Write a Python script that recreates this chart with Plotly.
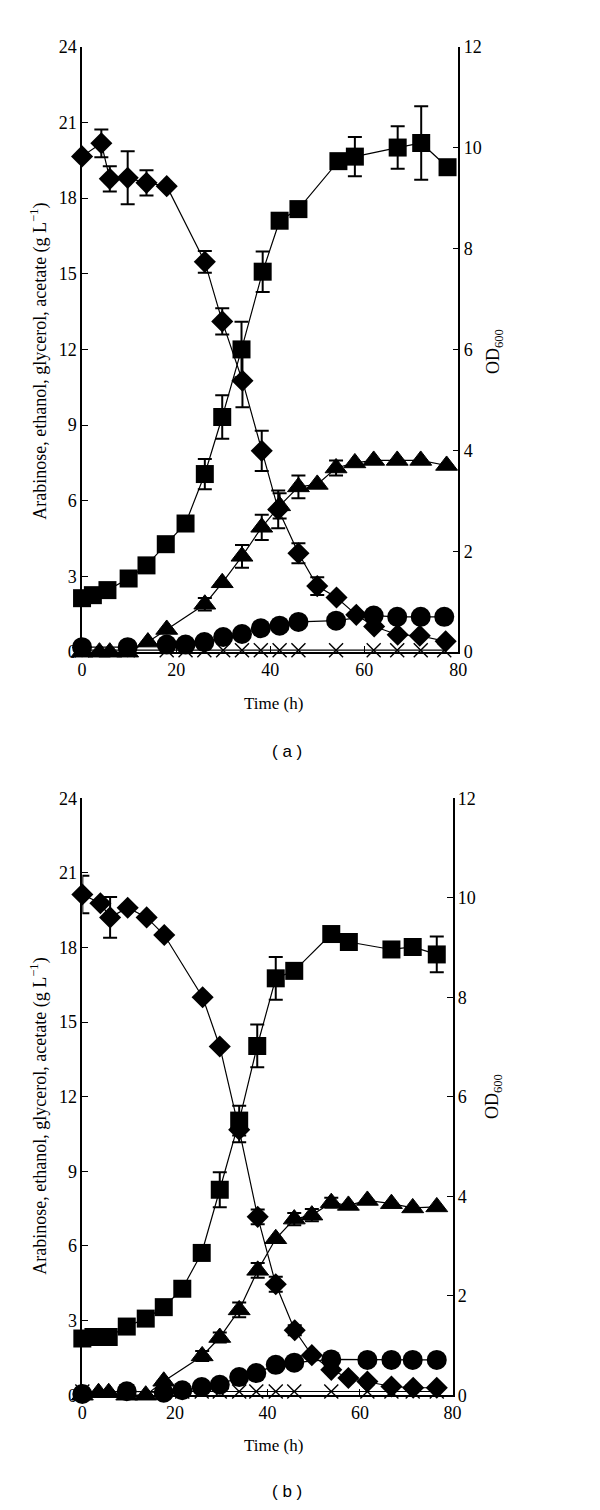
import plotly.graph_objects as go

# ---------------- Panel (a) ----------------
t_sq_a = [0, 2.3, 5.4, 9.9, 13.7, 17.8, 22.0, 26.1, 29.8, 33.9, 38.4, 42.0, 46.0, 54.5, 58.0, 67.1, 72.1, 77.7]
od_a = [1.07, 1.13, 1.23, 1.46, 1.72, 2.14, 2.55, 3.53, 4.66, 6.0, 7.54, 8.55, 8.78, 9.73, 9.82, 10.0, 10.09, 9.61]
od_err_a = [0, 0, 0, 0, 0, 0, 0, 0.3, 0.43, 0.55, 0.4, 0, 0, 0, 0.39, 0.42, 0.73, 0]

t_ara_a = [0, 4.1, 5.9, 9.7, 13.7, 18.0, 26.1, 29.8, 34.1, 38.2, 41.7, 46.0, 50.0, 54.1, 58.3, 62.1, 67.1, 71.8, 77.3]
ara_a = [19.65, 20.17, 18.76, 18.8, 18.6, 18.47, 15.47, 13.11, 10.76, 7.98, 5.66, 3.92, 2.62, 2.17, 1.48, 1.02, 0.69, 0.65, 0.43]
ara_err_a = [0, 0.55, 0.5, 1.05, 0.5, 0, 0.43, 0.52, 1.05, 0.8, 0.75, 0.4, 0.35, 0, 0, 0, 0, 0, 0]

t_eth_a = [0, 3.7, 5.9, 9.7, 14.0, 18.0, 26.1, 29.8, 34.0, 38.2, 42.0, 46.0, 50.0, 54.0, 58.0, 62.0, 67.0, 72.0, 77.5]
eth_a = [0.0, 0.0, 0.0, 0.0, 0.4, 0.9, 1.9, 2.75, 3.8, 4.95, 5.8, 6.55, 6.65, 7.3, 7.5, 7.6, 7.6, 7.6, 7.4]
eth_err_a = [0, 0, 0, 0, 0, 0, 0.25, 0, 0.45, 0.5, 0.5, 0.45, 0, 0.3, 0, 0, 0, 0, 0]

t_gly_a = [0, 9.7, 18.0, 22.0, 26.0, 30.0, 34.0, 38.0, 42.0, 46.0, 54.0, 62.0, 67.0, 72.0, 77.0]
gly_a = [0.2, 0.2, 0.3, 0.3, 0.4, 0.6, 0.72, 0.95, 1.05, 1.2, 1.25, 1.45, 1.4, 1.4, 1.4]
ace_a = [0.08, 0.08, 0.08, 0.08, 0.08, 0.08, 0.08, 0.08, 0.08, 0.08, 0.08, 0.08, 0.08, 0.08, 0.08]

# ---------------- Panel (b) ----------------
t_sq_b = [0, 2.4, 5.7, 9.6, 13.7, 17.6, 21.6, 25.8, 29.7, 33.9, 37.8, 41.8, 45.8, 53.8, 57.6, 66.8, 71.4, 76.6]
od_b = [1.14, 1.17, 1.17, 1.38, 1.54, 1.77, 2.14, 2.86, 4.13, 5.52, 7.02, 8.38, 8.53, 9.27, 9.11, 8.96, 9.01, 8.86]
od_err_b = [0, 0, 0, 0, 0, 0, 0, 0, 0.35, 0.3, 0.43, 0.43, 0, 0, 0, 0, 0, 0.36]

t_ara_b = [0, 3.9, 6.0, 9.8, 13.9, 17.7, 26.0, 29.7, 33.9, 37.9, 41.8, 45.9, 49.6, 53.8, 57.5, 61.6, 66.8, 71.5, 76.6]
ara_b = [20.13, 19.78, 19.21, 19.6, 19.21, 18.5, 16.0, 14.02, 10.67, 7.17, 4.46, 2.61, 1.61, 1.02, 0.69, 0.55, 0.35, 0.3, 0.3]
ara_err_b = [0.75, 0, 0.82, 0, 0, 0, 0, 0, 0.5, 0.3, 0.3, 0.2, 0, 0, 0, 0, 0, 0, 0]

t_eth_b = [0, 3.5, 5.7, 9.6, 13.7, 17.6, 25.9, 29.7, 33.9, 37.9, 41.8, 45.8, 49.6, 53.8, 57.5, 61.6, 66.8, 71.4, 76.6]
eth_b = [0.0, 0.1, 0.1, 0.0, 0.0, 0.56, 1.58, 2.32, 3.43, 5.02, 6.29, 7.08, 7.24, 7.74, 7.63, 7.83, 7.7, 7.53, 7.57]
eth_err_b = [0, 0, 0, 0, 0, 0, 0.2, 0.2, 0.3, 0.3, 0, 0.25, 0.25, 0.2, 0, 0, 0, 0, 0]

t_gly_b = [0, 9.6, 17.6, 21.6, 25.8, 29.7, 33.9, 37.6, 41.8, 45.8, 53.8, 61.6, 66.8, 71.4, 76.6]
gly_b = [0.05, 0.16, 0.1, 0.2, 0.33, 0.42, 0.73, 0.89, 1.22, 1.31, 1.44, 1.42, 1.42, 1.42, 1.42]
ace_b = [0.15, 0.15, 0.15, 0.15, 0.15, 0.15, 0.15, 0.15, 0.15, 0.15, 0.15, 0.15, 0.15, 0.15, 0.15]

x_ticks = [0, 20, 40, 60, 80]
left_ticks = [0, 3, 6, 9, 12, 15, 18, 21, 24]
right_ticks = [0, 2, 4, 6, 8, 10, 12]

W, H = 600, 1510
SERIF = "Liberation Serif, Times New Roman, serif"
LINE = dict(color="black", width=1.2)


def err(arr):
    return dict(type="data", array=arr, visible=True, color="black", thickness=2, width=7)


fig = go.Figure()


def add_panel(xa, ya_l, ya_r, t_sq, od, od_e, t_ara, ara, ara_e, t_eth, eth, eth_e, t_gly, gly, ace):
    common = dict(xaxis=xa, mode="lines+markers", showlegend=False, cliponaxis=False, line=LINE)
    fig.add_trace(go.Scatter(x=t_gly, y=ace, yaxis=ya_l,
                             marker=dict(symbol="x-thin", size=14, color="black",
                                         line=dict(color="black", width=1.4)), **common))
    fig.add_trace(go.Scatter(x=t_gly, y=gly, yaxis=ya_l,
                             marker=dict(symbol="circle", size=20, color="black"), **common))
    fig.add_trace(go.Scatter(x=t_eth, y=eth, yaxis=ya_l, error_y=err(eth_e),
                             marker=dict(symbol="triangle-up", size=19, color="black",
                                         line=dict(color="black", width=1)), **common))
    fig.add_trace(go.Scatter(x=t_ara, y=ara, yaxis=ya_l, error_y=err(ara_e),
                             marker=dict(symbol="diamond", size=17, color="black"), **common))
    fig.add_trace(go.Scatter(x=t_sq, y=od, yaxis=ya_r, error_y=err(od_e),
                             marker=dict(symbol="square", size=18, color="black"), **common))


add_panel("x", "y", "y2", t_sq_a, od_a, od_err_a, t_ara_a, ara_a, ara_err_a,
          t_eth_a, eth_a, eth_err_a, t_gly_a, gly_a, ace_a)
add_panel("x2", "y3", "y4", t_sq_b, od_b, od_err_b, t_ara_b, ara_b, ara_err_b,
          t_eth_b, eth_b, eth_err_b, t_gly_b, gly_b, ace_b)


def px_x(p):
    return p / W


def px_y(p):
    return 1 - p / H


axis_common = dict(showgrid=False, zeroline=False, showline=True, linecolor="black", linewidth=1.5,
                   ticks="inside", ticklen=6, tickwidth=1.3, tickcolor="black",
                   tickfont=dict(family=SERIF, size=18, color="black"), fixedrange=True)

top_x = (70.7, 456)
bot_x = (71, 450)
top_y = (29, 642.7)
bot_y = (790.7, 1395.7)

fig.update_layout(
    width=W, height=H, margin=dict(l=0, r=0, t=0, b=0),
    paper_bgcolor="white", plot_bgcolor="white",
    font=dict(family=SERIF, color="black"),
    xaxis=dict(domain=[px_x(top_x[0]), px_x(top_x[1])], anchor="y", range=[0, 80],
               tickvals=x_ticks, **axis_common),
    yaxis=dict(domain=[px_y(top_y[1]), px_y(top_y[0])], anchor="x", range=[0, 24],
               tickvals=left_ticks, **axis_common),
    yaxis2=dict(overlaying="y", side="right", anchor="x", range=[0, 12],
                tickvals=right_ticks, **axis_common),
    xaxis2=dict(domain=[px_x(bot_x[0]), px_x(bot_x[1])], anchor="y3", range=[0, 80],
                tickvals=x_ticks, **axis_common),
    yaxis3=dict(domain=[px_y(bot_y[1]), px_y(bot_y[0])], anchor="x2", range=[0, 24],
                tickvals=left_ticks, **axis_common),
    yaxis4=dict(overlaying="y3", side="right", anchor="x2", range=[0, 12],
                tickvals=right_ticks, **axis_common),
)

ann = []
ytitle = "Arabinose, ethanol, glycerol, acetate (g L<sup>−1</sup>)"
for (yc, ody, odx, tx, ty, lab, ly) in [
    (348, 338, 493, 267, 695, "( a )", 743),
    (1113, 1093, 492, 267, 1447, "( b )", 1493),
]:
    ann.append(dict(x=px_x(27), y=px_y(yc), text=ytitle, textangle=-90, showarrow=False,
                    xref="paper", yref="paper", xanchor="center", yanchor="middle",
                    font=dict(family=SERIF, size=18, color="black")))
    ann.append(dict(x=px_x(odx), y=px_y(ody), text="OD<sub>600</sub>", textangle=-90, showarrow=False,
                    xref="paper", yref="paper", xanchor="center", yanchor="middle",
                    font=dict(family=SERIF, size=18, color="black")))
    ann.append(dict(x=px_x(tx), y=px_y(ty), text="Time (h)", showarrow=False,
                    xref="paper", yref="paper", xanchor="center", yanchor="middle",
                    font=dict(family=SERIF, size=17, color="black")))
    ann.append(dict(x=px_x(281), y=px_y(ly), text=lab, showarrow=False,
                    xref="paper", yref="paper", xanchor="center", yanchor="middle",
                    font=dict(family="Liberation Sans, Arial, sans-serif", size=17, color="black")))
fig.update_layout(annotations=ann)

fig.write_html("out.html")
